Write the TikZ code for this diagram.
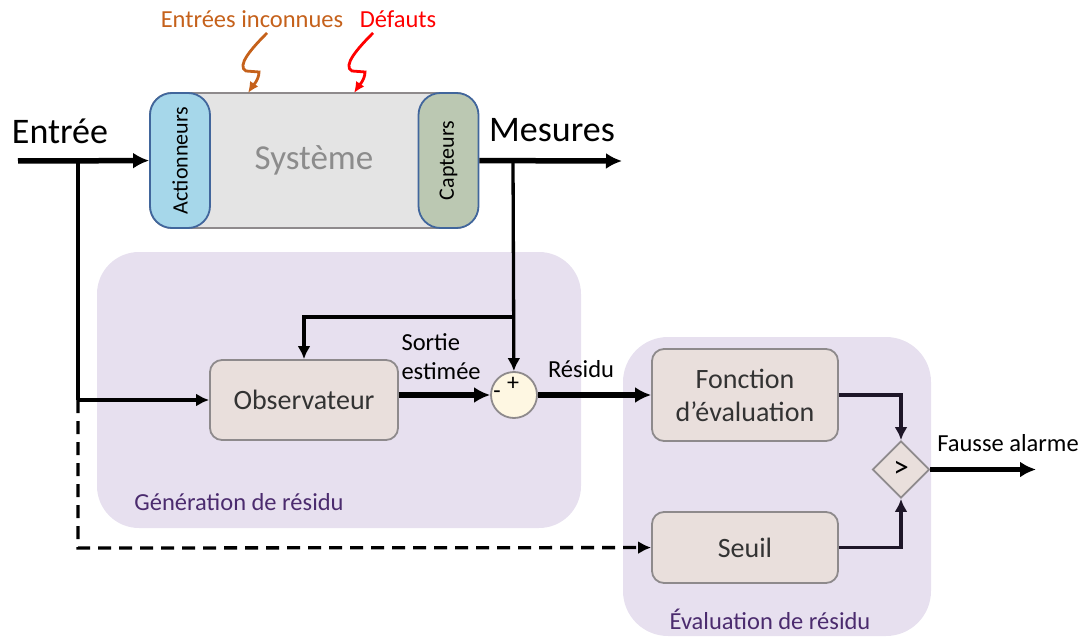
\documentclass[tikz,border=0pt]{standalone}
\usepackage{fontspec}
\setmainfont{Carlito}
\usepackage{graphicx}
\usetikzlibrary{shapes.geometric,arrows.meta}

\definecolor{zonecol}{HTML}{E7E0EF}
\definecolor{zonetext}{HTML}{4B2B6E}
\definecolor{blocfill}{HTML}{E9DFDC}
\definecolor{blocline}{HTML}{8E8A8C}
\definecolor{sysfill}{HTML}{E4E4E4}
\definecolor{actfill}{HTML}{A6D7EA}
\definecolor{captfill}{HTML}{BBC8B2}
\definecolor{bordblue}{HTML}{41669C}
\definecolor{sumfill}{HTML}{FEF7E2}
\definecolor{unkcol}{HTML}{C5611B}
\definecolor{faultcol}{HTML}{FF0000}
\definecolor{darkline}{HTML}{1E1628}

\tikzset{
  bloc/.style={draw=blocline, fill=blocfill, line width=1.8pt, rounded corners=12pt, text=black!80, font=\fontsize{28}{33}\selectfont, align=center},
  part/.style={draw=bordblue, line width=1.8pt, rounded corners=22pt, minimum width=60pt, minimum height=135pt, inner sep=0pt, font=\fontsize{22}{26}\selectfont},
  thickline/.style={line width=5.5pt, >={Latex[length=16pt,width=16pt]}},
  thinline/.style={line width=3.3pt, >={Latex[length=13pt,width=13pt]}},
  wavy/.style={line width=2.8pt, >={Latex[length=11pt,width=10pt]}},
  lab/.style={font=\fontsize{24.5}{29}\selectfont},
  biglab/.style={font=\fontsize{36}{40}\selectfont},
}

\begin{document}
\begin{tikzpicture}[x=1pt, y=-1pt, >=latex]
\useasboundingbox (0,0) rectangle (1084,639);

% zones
\fill[zonecol, rounded corners=42pt] (97,252) rectangle (581,528);
\fill[zonecol, rounded corners=45pt] (623,337) rectangle (931,636);
\node[lab, text=zonetext] (zgen) at (239,502) {Génération de résidu};
\node[lab, text=zonetext] (zeval) at (770,619) {Évaluation de résidu};

% systeme
\node[draw=blocline, fill=sysfill, line width=1.8pt, rounded corners=22pt, minimum width=328pt, minimum height=135pt, text=black!45, font=\fontsize{35}{40}\selectfont] (sys) at (314,160.5) {Système};
\node[part, fill=actfill] (act) at (180,160.5) {\rotatebox{90}{Actionneurs}};
\node[part, fill=captfill] (capt) at (448.5,160.5) {\rotatebox{90}{Capteurs}};

% blocs
\node[bloc, minimum width=188pt, minimum height=80pt] (obs) at (304,400) {Observateur};
\node[bloc, minimum width=186pt, minimum height=92pt] (fonc) at (745,395) {Fonction\\d’évaluation};
\node[bloc, minimum width=186pt, minimum height=71pt] (seuil) at (745,547.5) {Seuil};

\node[circle, draw=blocline, fill=sumfill, line width=1.8pt, minimum size=46pt, inner sep=0pt] (sum) at (514,395) {};
\node[font=\fontsize{24}{24}\selectfont, inner sep=0pt] (plus) at (513,384) {+};
\node[font=\fontsize{24}{24}\selectfont, inner sep=0pt] (moins) at (497,395) {-};
\node[diamond, aspect=1, draw=blocline, fill=blocfill, line width=1.8pt, minimum size=57pt, inner sep=0pt, font=\fontsize{31}{31}\selectfont] (comp) at (901,469.5) {>};

\coordinate (in) at (18,161);
\coordinate (b1) at (78,161);
\coordinate (b1s) at (78,400);
\coordinate (b1e) at (78,548);
\coordinate (out) at (622,161);
\coordinate (b2) at (513,161);
\coordinate (b3) at (513,317);
\coordinate (alarm) at (1036,469.5);

% liaisons
\draw[->, thickline] (in) -- (act);
\draw[thinline] (b1) -- (b1s);
\draw[->, thinline] (b1s) -- (obs);
\draw[->, thinline, dash pattern=on 13pt off 8pt] (b1s) -- (b1e) -- (seuil);
\draw[->, thickline] (capt) -- (out);
\draw[->, thinline] (b2) -- (sum);
\draw[->, thinline] (b3) -| (obs);
\draw[->, thickline] (obs.east |- sum) -- (sum);
\draw[->, thickline] (sum) -- (fonc);
\draw[->, thinline, darkline] (fonc) -| (comp);
\draw[->, thinline, darkline] (seuil) -| (comp);
\draw[->, thickline] (comp) -- (alarm);

\foreach \dx/\col in {0/unkcol, 106/faultcol}
{
  \draw[->, wavy, \col, xshift=\dx] (267,33) .. controls (252,48) and (236,66) .. (246,71) -- (259,72) .. controls (259,80) and (252,87) .. (248,93);
}

% textes
\node[biglab] (lentree) at (60,131) {Entrée};
\node[biglab] (lmes) at (552,130) {Mesures};
\node[lab, align=left, anchor=west] (lsortie) at (398,357) {Sortie\\estimée};
\node[lab] (lres) at (581,369) {Résidu};
\node[lab] (lalarme) at (1008,443) {Fausse alarme};
\node[lab, text=unkcol] (linc) at (252,19) {Entrées inconnues};
\node[lab, text=faultcol] (ldef) at (398,19) {Défauts};

\end{tikzpicture}
\end{document}
